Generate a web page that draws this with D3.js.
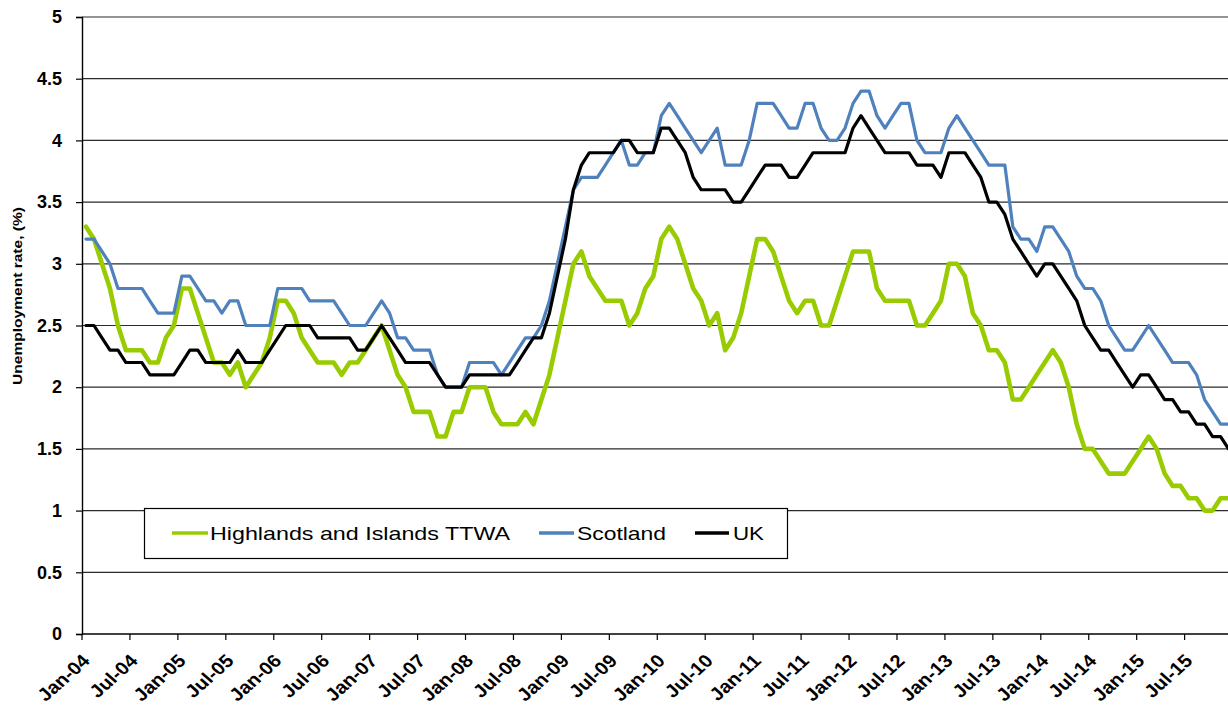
<!DOCTYPE html>
<html>
<head>
<meta charset="utf-8">
<script src="https://cdnjs.cloudflare.com/ajax/libs/d3/7.8.5/d3.min.js"></script>
<style>
	body { margin: 0; background: #fff; }
	svg { display: block; font-family: "Liberation Sans", Arial, sans-serif; }
</style>
</head>
<body>
<svg id="RateChart"></svg>
<script>
// monthly unemployment rate (%), Jan-04 .. Dec-15
var highlands = [
	3.3,3.2,3.0,2.8,2.5,2.3,2.3,2.3,2.2,2.2,2.4,2.5,
	2.8,2.8,2.6,2.4,2.2,2.2,2.1,2.2,2.0,2.1,2.2,2.4,
	2.7,2.7,2.6,2.4,2.3,2.2,2.2,2.2,2.1,2.2,2.2,2.3,
	2.4,2.5,2.3,2.1,2.0,1.8,1.8,1.8,1.6,1.6,1.8,1.8,
	2.0,2.0,2.0,1.8,1.7,1.7,1.7,1.8,1.7,1.9,2.1,2.4,
	2.7,3.0,3.1,2.9,2.8,2.7,2.7,2.7,2.5,2.6,2.8,2.9,
	3.2,3.3,3.2,3.0,2.8,2.7,2.5,2.6,2.3,2.4,2.6,2.9,
	3.2,3.2,3.1,2.9,2.7,2.6,2.7,2.7,2.5,2.5,2.7,2.9,
	3.1,3.1,3.1,2.8,2.7,2.7,2.7,2.7,2.5,2.5,2.6,2.7,
	3.0,3.0,2.9,2.6,2.5,2.3,2.3,2.2,1.9,1.9,2.0,2.1,
	2.2,2.3,2.2,2.0,1.7,1.5,1.5,1.4,1.3,1.3,1.3,1.4,
	1.5,1.6,1.5,1.3,1.2,1.2,1.1,1.1,1.0,1.0,1.1,1.1];

var scotland = [
	3.2,3.2,3.1,3.0,2.8,2.8,2.8,2.8,2.7,2.6,2.6,2.6,
	2.9,2.9,2.8,2.7,2.7,2.6,2.7,2.7,2.5,2.5,2.5,2.5,
	2.8,2.8,2.8,2.8,2.7,2.7,2.7,2.7,2.6,2.5,2.5,2.5,
	2.6,2.7,2.6,2.4,2.4,2.3,2.3,2.3,2.1,2.0,2.0,2.0,
	2.2,2.2,2.2,2.2,2.1,2.2,2.3,2.4,2.4,2.5,2.7,3.0,
	3.3,3.6,3.7,3.7,3.7,3.8,3.9,4.0,3.8,3.8,3.9,3.9,
	4.2,4.3,4.2,4.1,4.0,3.9,4.0,4.1,3.8,3.8,3.8,4.0,
	4.3,4.3,4.3,4.2,4.1,4.1,4.3,4.3,4.1,4.0,4.0,4.1,
	4.3,4.4,4.4,4.2,4.1,4.2,4.3,4.3,4.0,3.9,3.9,3.9,
	4.1,4.2,4.1,4.0,3.9,3.8,3.8,3.8,3.3,3.2,3.2,3.1,
	3.3,3.3,3.2,3.1,2.9,2.8,2.8,2.7,2.5,2.4,2.3,2.3,
	2.4,2.5,2.4,2.3,2.2,2.2,2.2,2.1,1.9,1.8,1.7,1.7];

var uk = [
	2.5,2.5,2.4,2.3,2.3,2.2,2.2,2.2,2.1,2.1,2.1,2.1,
	2.2,2.3,2.3,2.2,2.2,2.2,2.2,2.3,2.2,2.2,2.2,2.3,
	2.4,2.5,2.5,2.5,2.5,2.4,2.4,2.4,2.4,2.4,2.3,2.3,
	2.4,2.5,2.4,2.3,2.2,2.2,2.2,2.2,2.1,2.0,2.0,2.0,
	2.1,2.1,2.1,2.1,2.1,2.1,2.2,2.3,2.4,2.4,2.6,2.9,
	3.2,3.6,3.8,3.9,3.9,3.9,3.9,4.0,4.0,3.9,3.9,3.9,
	4.1,4.1,4.0,3.9,3.7,3.6,3.6,3.6,3.6,3.5,3.5,3.6,
	3.7,3.8,3.8,3.8,3.7,3.7,3.8,3.9,3.9,3.9,3.9,3.9,
	4.1,4.2,4.1,4.0,3.9,3.9,3.9,3.9,3.8,3.8,3.8,3.7,
	3.9,3.9,3.9,3.8,3.7,3.5,3.5,3.4,3.2,3.1,3.0,2.9,
	3.0,3.0,2.9,2.8,2.7,2.5,2.4,2.3,2.3,2.2,2.1,2.0,
	2.1,2.1,2.0,1.9,1.9,1.8,1.8,1.7,1.7,1.6,1.6,1.5];

var seriesNames = ["Highlands and Islands TTWA", "Scotland", "UK"];

var xTickLabels = ["Jan-04","Jul-04","Jan-05","Jul-05","Jan-06","Jul-06","Jan-07","Jul-07",
	"Jan-08","Jul-08","Jan-09","Jul-09","Jan-10","Jul-10","Jan-11","Jul-11",
	"Jan-12","Jul-12","Jan-13","Jul-13","Jan-14","Jul-14","Jan-15","Jul-15"];

var yTicks = [0, 0.5, 1, 1.5, 2, 2.5, 3, 3.5, 4, 4.5, 5];

var yTitle = "Unemployment rate, (%)";

class RateChart {

	constructor() {
		this.svgWidth = 1228;
		this.svgHeight = 711;
		this.left = 82;
		this.top = 17;
		this.bottom = 634;
		this.step = 7.99;

		var fmt = d3.timeFormat("%b-%y");
		this.months = d3.timeMonth.range(new Date(2004, 0, 1), new Date(2016, 0, 1)).map(fmt);

		this.color = d3.scaleOrdinal()
			.domain(seriesNames)
			.range(["#99cc00", "#4f81bd", "#000000"]);
		this.widths = {"Highlands and Islands TTWA": 4.6, "Scotland": 3.2, "UK": 3.2};
	}

	draw() {
		var self = this;
		var svg = d3.select("#RateChart")
			.attr("width", this.svgWidth)
			.attr("height", this.svgHeight);

		var x = d3.scaleBand()
			.domain(this.months)
			.range([this.left, this.left + this.months.length * this.step])
			.padding(0);
		var y = d3.scaleLinear()
			.domain([0, 5])
			.range([this.bottom, this.top]);
		var cx = function(m) { return x(m) + x.bandwidth() / 2; };

		// gridlines
		svg.append("g")
			.attr("class", "grid")
			.selectAll("line")
			.data(yTicks.filter(function(d) { return d > 0; }))
			.enter().append("line")
				.attr("x1", this.left)
				.attr("x2", this.svgWidth)
				.attr("y1", function(d) { return y(d); })
				.attr("y2", function(d) { return y(d); })
				.attr("stroke", "#2b2b2b")
				.attr("stroke-width", 1.2);

		// y axis
		var yAxis = svg.append("g")
			.attr("transform", "translate(" + this.left + ",0)")
			.call(d3.axisLeft(y).tickValues(yTicks).tickSize(6).tickPadding(14)
				.tickFormat(function(d) { return String(d); }));
		yAxis.select(".domain").attr("stroke", "#000").attr("stroke-width", 1.4);
		yAxis.selectAll(".tick line").attr("stroke", "#000").attr("stroke-width", 1.2);
		yAxis.selectAll(".tick text")
			.attr("font-family", "'Liberation Sans', Arial, sans-serif")
			.attr("font-size", 18)
			.attr("font-weight", "bold")
			.attr("fill", "#000");

		// x axis: ticks on category boundaries every 6 months
		var tickMonths = this.months.filter(function(m) { return xTickLabels.indexOf(m) >= 0; });
		var xAxis = svg.append("g").attr("class", "xaxis");
		xAxis.append("line")
			.attr("x1", this.left).attr("x2", this.svgWidth)
			.attr("y1", this.bottom).attr("y2", this.bottom)
			.attr("stroke", "#000").attr("stroke-width", 1.4);
		xAxis.selectAll(".xtick")
			.data(tickMonths)
			.enter().append("line")
				.attr("class", "xtick")
				.attr("x1", function(m) { return x(m); })
				.attr("x2", function(m) { return x(m); })
				.attr("y1", this.bottom)
				.attr("y2", this.bottom + 6)
				.attr("stroke", "#000")
				.attr("stroke-width", 1.2);
		// labels look slightly stretched sideways in the source, so scale x a bit
		xAxis.selectAll(".xlabel")
			.data(tickMonths)
			.enter().append("text")
				.attr("class", "xlabel")
				.attr("transform", function(m) {
					return "translate(" + (cx(m) + 5) + "," + (self.bottom + 28) + ") scale(1.12,1) rotate(-45)";
				})
				.attr("text-anchor", "end")
				.attr("font-size", 18)
				.attr("font-weight", "bold")
				.text(function(m) { return m; });

		// y title
		svg.append("text")
			.attr("transform", "translate(22,296) rotate(-90)")
			.attr("text-anchor", "middle")
			.attr("font-size", 13)
			.attr("font-weight", "bold")
			.attr("textLength", 178)
			.attr("lengthAdjust", "spacingAndGlyphs")
			.text(yTitle);

		// lines
		var series = [
			{name: seriesNames[0], values: highlands},
			{name: seriesNames[1], values: scotland},
			{name: seriesNames[2], values: uk}
		];
		var line = d3.line()
			.x(function(d, i) { return cx(self.months[i]); })
			.y(function(d) { return y(d); });

		svg.append("g")
			.attr("class", "series")
			.selectAll("path")
			.data(series)
			.enter().append("path")
				.attr("d", function(s) { return line(s.values); })
				.attr("fill", "none")
				.attr("stroke", function(s) { return self.color(s.name); })
				.attr("stroke-width", function(s) { return self.widths[s.name]; })
				.attr("stroke-linejoin", "round")
				.attr("stroke-linecap", "round");

		// legend
		var legend = svg.append("g").attr("class", "legend");
		legend.append("rect")
			.attr("x", 144.5).attr("y", 508.5)
			.attr("width", 643).attr("height", 50)
			.attr("fill", "#fff")
			.attr("stroke", "#000")
			.attr("stroke-width", 1.2);

		var items = [
			{name: seriesNames[0], x0: 172, x1: 208, tx: 210, tw: 300},
			{name: seriesNames[1], x0: 539, x1: 574, tx: 577, tw: 89},
			{name: seriesNames[2], x0: 695, x1: 729, tx: 733, tw: 31}
		];
		var item = legend.selectAll(".item")
			.data(items)
			.enter().append("g")
				.attr("class", "item");
		item.append("line")
			.attr("x1", function(d) { return d.x0; })
			.attr("x2", function(d) { return d.x1; })
			.attr("y1", 533).attr("y2", 533)
			.attr("stroke", function(d) { return self.color(d.name); })
			.attr("stroke-width", 3.4);
		item.append("text")
			.attr("x", function(d) { return d.tx; })
			.attr("y", 540)
			.attr("font-size", 18.5)
			.attr("textLength", function(d) { return d.tw; })
			.attr("lengthAdjust", "spacingAndGlyphs")
			.text(function(d) { return d.name; });
	}
}

var chart = new RateChart();
chart.draw();
</script>
</body>
</html>
